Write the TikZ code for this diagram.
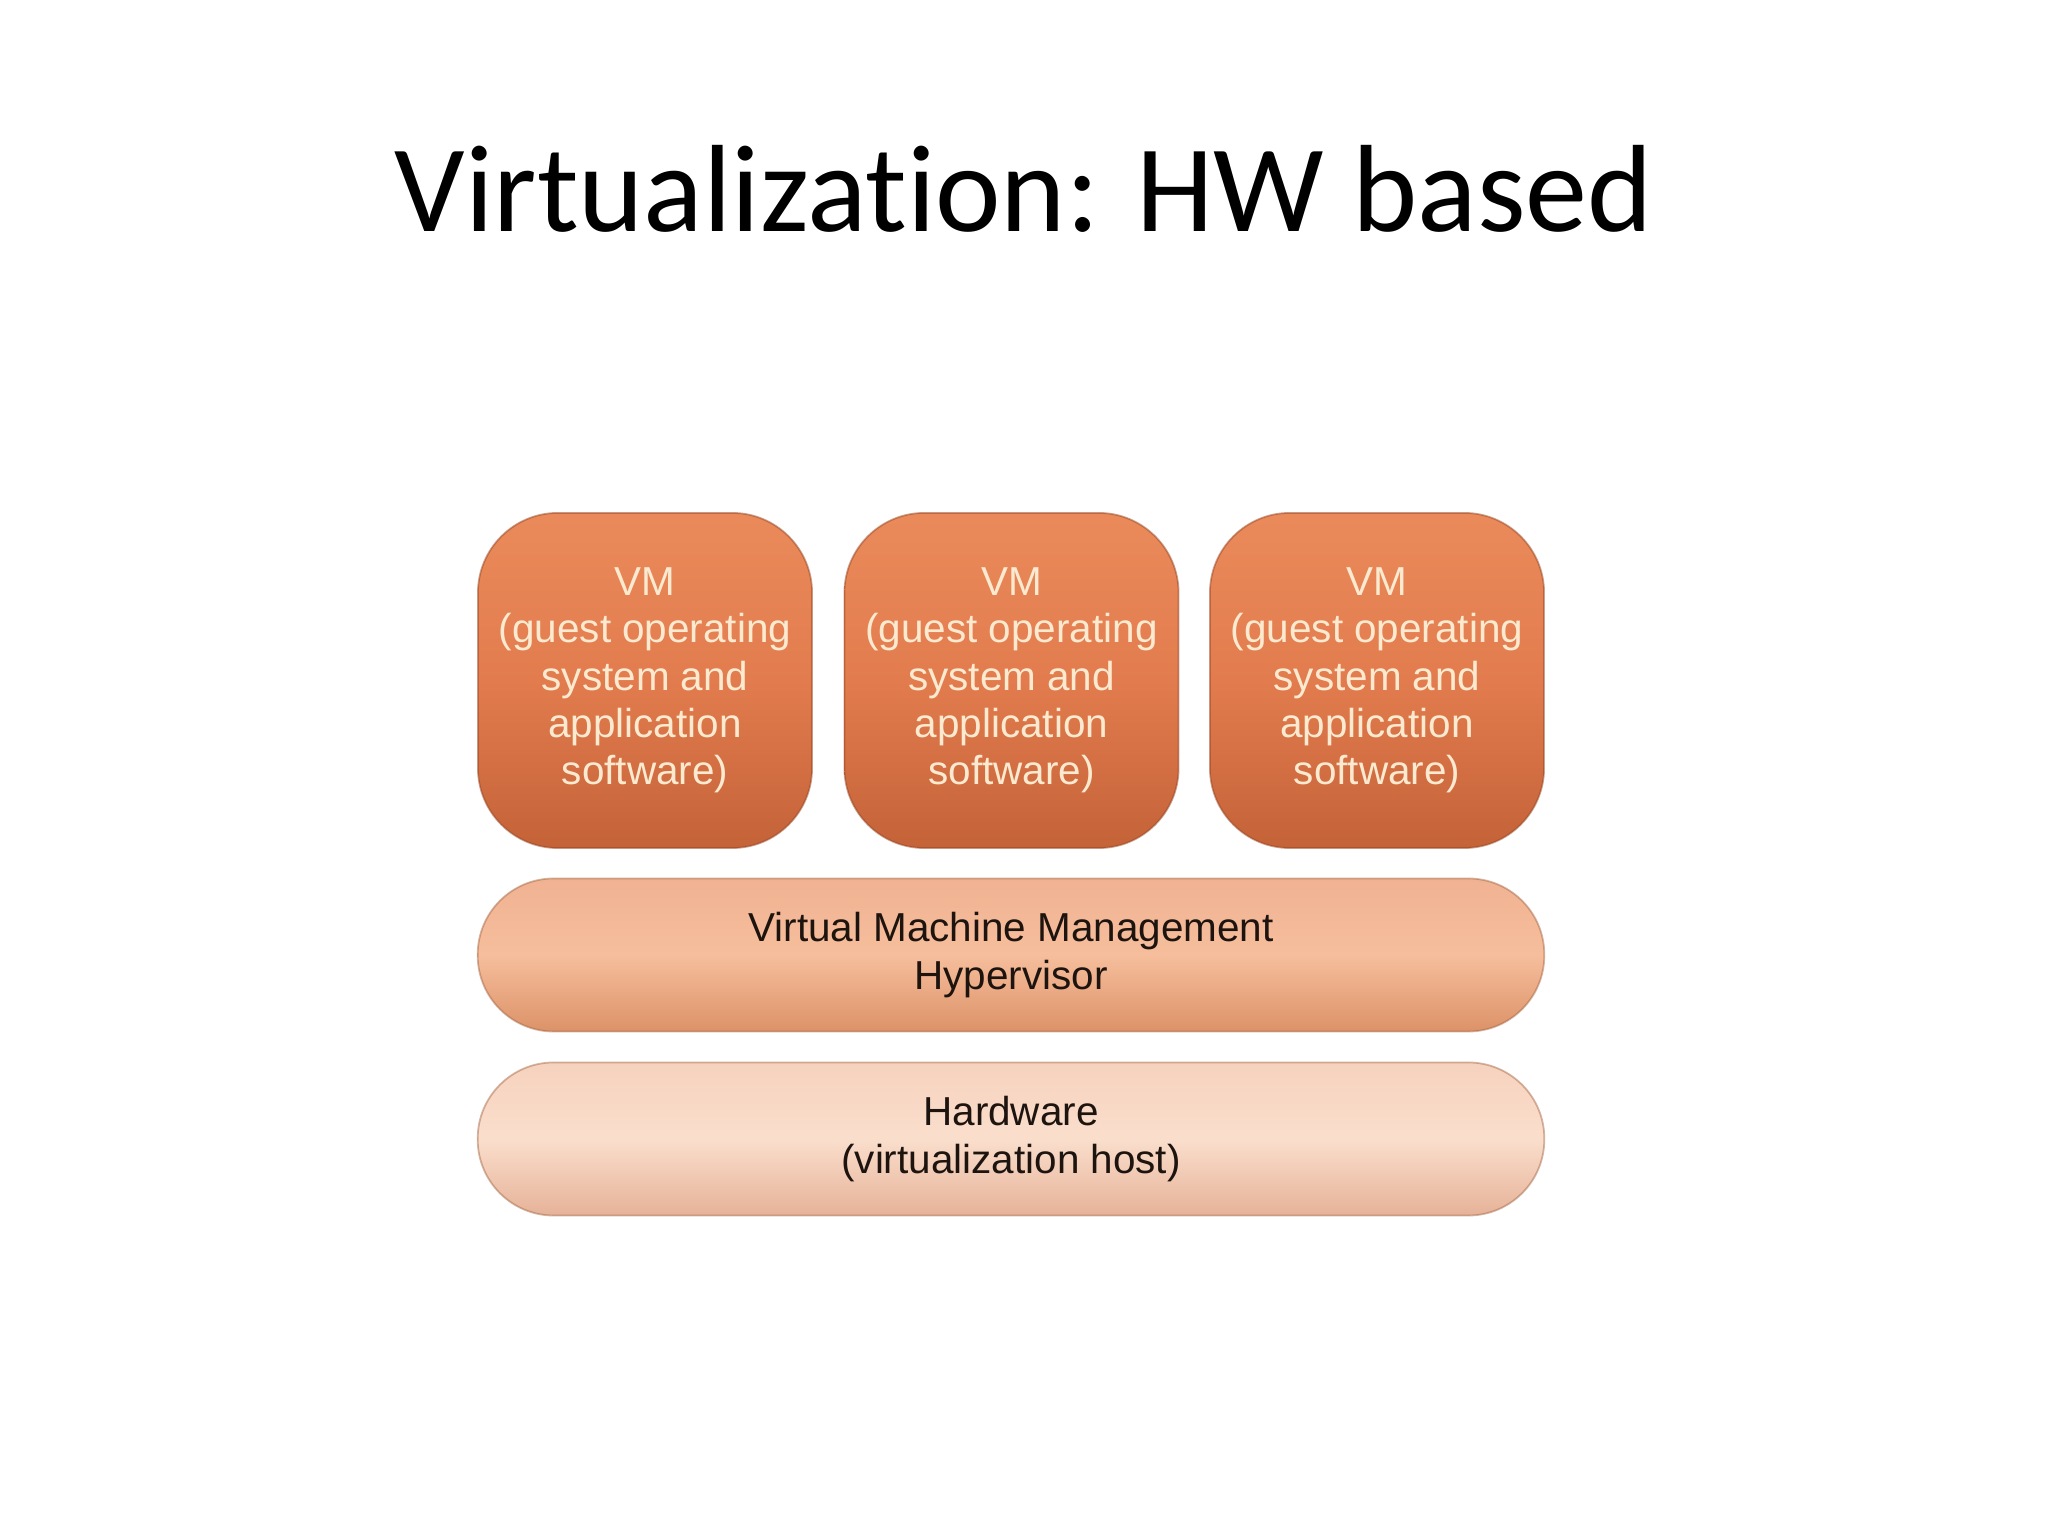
\documentclass[tikz,border=0pt]{standalone}
\usepackage{fontspec}
\setmainfont{Liberation Sans}
\newfontfamily\titlefont[Ligatures=NoCommon]{Carlito}
\begin{document}
\begin{tikzpicture}[x=0.01cm,y=0.01cm,
  vmbox/.style={rounded corners=0.8cm, minimum width=3.34cm, minimum height=3.35cm,
    top color=vmtop, bottom color=vmbot, middle color=vmmid, draw=vmedge, draw opacity=0.5, line width=0.5pt,
    text=vmtext, align=center, font=\fontsize{11.5}{13.45}\selectfont, inner sep=0pt},
  barbox/.style={rounded corners=0.76cm, minimum width=10.66cm, minimum height=1.53cm,
    draw opacity=0.45, line width=0.5pt,
    text=bartext, align=center, font=\fontsize{11.5}{13.45}\selectfont, inner sep=0pt}]
\definecolor{vmtop}{RGB}{234,138,90}
\definecolor{vmmid}{RGB}{226,124,78}
\definecolor{vmbot}{RGB}{196,98,56}
\definecolor{vmedge}{RGB}{150,70,35}
\definecolor{vmtext}{RGB}{252,234,208}
\definecolor{hyptop}{RGB}{240,178,146}
\definecolor{hypmid}{RGB}{246,190,156}
\definecolor{hypbot}{RGB}{220,146,104}
\definecolor{hwtop}{RGB}{246,210,190}
\definecolor{hwmid}{RGB}{250,222,204}
\definecolor{hwbot}{RGB}{230,178,152}
\definecolor{baredge}{RGB}{160,95,60}
\definecolor{bartext}{RGB}{30,20,15}
\useasboundingbox[fill=white] (0,0) rectangle (2048,1536);
\node[anchor=base, font=\titlefont\fontsize{35.3}{40}\selectfont] (title) at (1024,1304) {Virtualization: HW based};
\node[vmbox] (vm1) at (645,855.5) {VM\\(guest operating\\system and\\application\\software)};
\node[vmbox] (vm2) at (1011.5,855.5) {VM\\(guest operating\\system and\\application\\software)};
\node[vmbox] (vm3) at (1377,855.5) {VM\\(guest operating\\system and\\application\\software)};
\node[barbox, top color=hyptop, bottom color=hypbot, middle color=hypmid, draw=baredge] (hyp) at (1011,581) {Virtual Machine Management\\Hypervisor};
\node[barbox, top color=hwtop, bottom color=hwbot, middle color=hwmid, draw=baredge] (hw) at (1011,397) {Hardware\\(virtualization host)};
\end{tikzpicture}
\end{document}
